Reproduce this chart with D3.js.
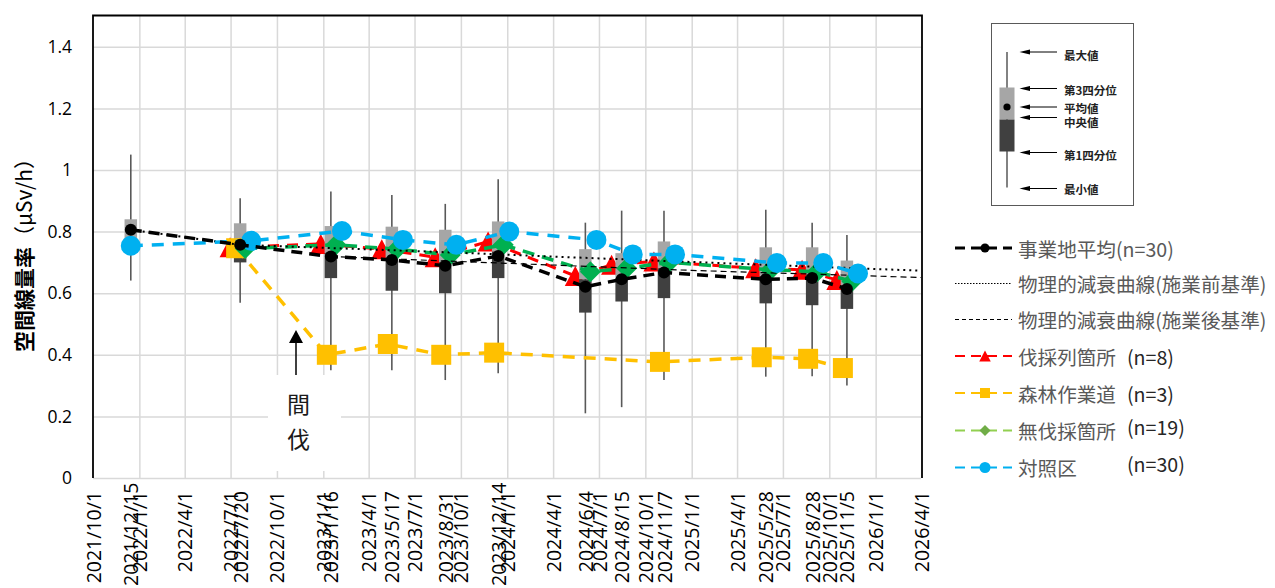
<!DOCTYPE html>
<html><head><meta charset="utf-8">
<script src="https://cdn.jsdelivr.net/npm/d3@7"></script>
<style>
html,body{margin:0;padding:0;background:#fff;}
svg{display:block;}
</style></head>
<body>
<svg id="chart" width="1275" height="588"></svg>
<script>
// ---------------- DATA ----------------
const surveyDates = ["2021/12/15","2022/7/20","2023/1/16","2023/5/17","2023/8/31","2023/12/14","2024/6/4","2024/8/15","2024/11/7","2025/5/28","2025/8/28","2025/11/5"];
const quarterTicks = ["2021/10/1","2022/1/1","2022/4/1","2022/7/1","2022/10/1","2023/1/1","2023/4/1","2023/7/1","2023/10/1","2024/1/1","2024/4/1","2024/7/1","2024/10/1","2025/1/1","2025/4/1","2025/7/1","2025/10/1","2026/1/1","2026/4/1"];
const yTicks = [0,0.2,0.4,0.6,0.8,1,1.2,1.4];

// box plot (事業地 n=30)
const boxMax    = [1.05, 0.908,0.930,0.919,0.890,0.970,0.829,0.868,0.868,0.871,0.829,0.789];
const boxQ3     = [0.840,0.827,0.818,0.816,0.806,0.833,0.743,0.730,0.768,0.749,0.749,0.706];
const boxMedian = [0.770,0.745,0.730,0.715,0.700,0.735,0.645,0.650,0.680,0.655,0.660,0.625];
const boxQ1     = [0.735,0.700,0.649,0.608,0.600,0.649,0.537,0.573,0.584,0.567,0.561,0.549];
const boxMin    = [0.641,0.569,0.350,0.350,0.318,0.340,0.210,0.230,0.318,0.329,0.330,0.300];
const siteMean  = [0.806,0.757,0.719,0.708,0.689,0.721,0.621,0.645,0.667,0.645,0.649,0.614];

// 伐採列箇所 (n=8)
const redDates  = ["2022/6/30","2022/12/27","2023/4/27","2023/8/11","2023/11/24","2024/5/15","2024/7/26","2024/10/18","2025/5/8","2025/8/8","2025/10/16"];
const redValues = [0.749,0.760,0.743,0.717,0.768,0.656,0.692,0.703,0.681,0.676,0.643];

// 森林作業道 (n=3)
const yellowDates  = ["2022/7/12","2023/1/8","2023/5/9","2023/8/23","2023/12/6","2024/10/30","2025/5/20","2025/8/20","2025/10/28"];
const yellowValues = [0.746,0.400,0.435,0.400,0.407,0.377,0.392,0.387,0.357];

// 無伐採箇所 (n=19)
const greenDates  = ["2022/7/30","2023/1/26","2023/5/27","2023/9/10","2023/12/24","2024/6/14","2024/8/25","2024/11/17","2025/6/7","2025/9/7","2025/11/15"];
const greenValues = [0.745,0.757,0.743,0.724,0.757,0.670,0.681,0.700,0.676,0.670,0.638];

// 対照区 (n=30)
const blueDates  = ["2021/12/15","2022/8/11","2023/2/7","2023/6/8","2023/9/22","2024/1/5","2024/6/26","2024/9/6","2024/11/29","2025/6/19","2025/9/19","2025/11/27"];
const blueValues = [0.754,0.770,0.802,0.773,0.757,0.800,0.773,0.726,0.726,0.698,0.698,0.664];

// 物理的減衰曲線
const preDates   = ["2021/12/15","2022/7/20","2023/7/1","2024/7/1","2025/7/1","2026/4/1"];
const preValues  = [0.806,0.757,0.737,0.713,0.690,0.673];
const postDates  = ["2023/1/16","2024/1/1","2025/1/1","2026/4/1"];
const postValues = [0.719,0.697,0.674,0.651];

// legend texts
const boxLegendLabels = ["最大値","第3四分位","平均値","中央値","第1四分位","最小値"];
const seriesNames = ["事業地平均(n=30)","物理的減衰曲線(施業前基準)","物理的減衰曲線(施業後基準)","伐採列箇所","森林作業道","無伐採箇所","対照区"];
const seriesN = ["","","","(n=8)","(n=3)","(n=19)","(n=30)"];
const yAxisTitleMain = "空間線量率";
const yAxisTitleUnit = "（μSv/h）";
const annotationChars = ["間","伐"];

// ---------------- DRAW ----------------
const parse = d3.timeParse("%Y/%m/%d");
const fmt = d => `${d.getFullYear()}/${d.getMonth()+1}/${d.getDate()}`;
const svg = d3.select("#chart");
const L = 93, R = 921, T = 15.5, B = 478;
const x = d3.scaleTime().domain([parse("2021/10/1"), parse("2026/4/1")]).range([L, R]);
const y = d3.scaleLinear().domain([0, 1.5]).range([B, B - 1.5 * 308]);

const FONT = "'Open Sans', 'Noto Sans', sans-serif";
const CJK = "'Noto Sans CJK JP', 'Noto Sans', sans-serif";
const GRID = "#d9d9d9";

// grid
const grid = svg.append("g");
grid.append("g").attr("transform", `translate(${L},0)`)
  .call(d3.axisLeft(y).tickValues(yTicks).tickSize(-(R - L)).tickFormat(""))
  .call(g => g.select(".domain").remove())
  .call(g => g.selectAll("line").attr("stroke", GRID).attr("stroke-width", 1.5));
grid.append("g").attr("transform", `translate(0,${T})`)
  .call(d3.axisBottom(x).tickValues(quarterTicks.map(parse).slice(1, -1)).tickSize(B - T).tickFormat(""))
  .call(g => g.select(".domain").remove())
  .call(g => g.selectAll("line").attr("stroke", GRID).attr("stroke-width", 1.5));

// annotation white background
svg.append("rect").attr("x", 268).attr("y", 375).attr("width", 73).attr("height", 96).attr("fill", "#fff");

// borders
svg.append("path").attr("d", `M${L},${B}V${T}H${R + 1}V${B}`).attr("fill", "none").attr("stroke", "#000").attr("stroke-width", 1.8);

// axes
const yAxis = svg.append("g").attr("transform", `translate(${L},0)`)
  .call(d3.axisLeft(y).tickValues(yTicks).tickSize(0).tickPadding(21).tickFormat(d3.format("~g")));
yAxis.select(".domain").remove();
yAxis.selectAll("text").attr("font-family", FONT).attr("font-size", 17.5).attr("fill", "#000");

const allTicks = quarterTicks.concat(surveyDates).map(parse);
const xAxis = svg.append("g").attr("transform", `translate(0,${B})`)
  .call(d3.axisBottom(x).tickValues(allTicks).tickSize(0).tickFormat(fmt));
xAxis.select(".domain").remove();
xAxis.selectAll("text")
  .attr("font-family", FONT).attr("font-size", 19.5).attr("fill", "#000")
  .attr("transform", "rotate(-90)").attr("text-anchor", "end")
  .attr("y", 0).attr("dy", "0.36em")
  .attr("x", function () {
    const len = this.getComputedTextLength();
    // labels sit just below the axis, but long ones are pushed up to stay inside the picture
    const off = Math.min(13, 586 - B - len);
    return -off;
  });

const title = svg.append("text").attr("transform", `translate(23,250) rotate(-90)`)
  .attr("text-anchor", "middle").attr("dominant-baseline", "central")
  .attr("font-family", CJK).attr("font-size", 21).attr("fill", "#000");
title.append("tspan").attr("font-weight", "bold").text(yAxisTitleMain);
title.append("tspan").text(yAxisTitleUnit);

// symbol helpers
const triPath = s => `M0,${-s}L${s * 1.05},${s}L${-s * 1.05},${s}Z`;
const diaPath = s => `M0,${-s}L${s},0L0,${s}L${-s},0Z`;
const sqPath = s => `M${-s},${-s}H${s}V${s}H${-s}Z`;

function drawLine(dates, values, color, width, dash) {
  const pts = dates.map((d, i) => [x(parse(d)), y(values[i])]);
  svg.append("path").attr("d", d3.line()(pts)).attr("fill", "none")
    .attr("stroke", color).attr("stroke-width", width).attr("stroke-dasharray", dash);
  return pts;
}
function drawMarkers(pts, pathFn, color) {
  svg.append("g").selectAll("path").data(pts).join("path")
    .attr("transform", d => `translate(${d[0]},${d[1]})`).attr("d", pathFn).attr("fill", color);
}

// red
const redPts = drawLine(redDates, redValues, "#ff0000", 3, "11,8");
drawMarkers(redPts, () => triPath(10), "#ff0000");

// box plots
const bw = 12.5;
const boxes = svg.append("g");
surveyDates.forEach((d, i) => {
  const cx = x(parse(d));
  boxes.append("line").attr("x1", cx).attr("x2", cx).attr("y1", y(boxMax[i])).attr("y2", y(boxMin[i]))
    .attr("stroke", "#595959").attr("stroke-width", 1.6);
  boxes.append("rect").attr("x", cx - bw / 2).attr("width", bw)
    .attr("y", y(boxQ3[i])).attr("height", y(boxMedian[i]) - y(boxQ3[i])).attr("fill", "#a6a6a6");
  boxes.append("rect").attr("x", cx - bw / 2).attr("width", bw)
    .attr("y", y(boxMedian[i])).attr("height", y(boxQ1[i]) - y(boxMedian[i])).attr("fill", "#404040");
});

// yellow
const yelPts = drawLine(yellowDates, yellowValues, "#ffc000", 3.5, "12,9");
drawMarkers(yelPts, () => sqPath(10), "#ffc000");

// green
const grnPts = drawLine(greenDates, greenValues, "#00b050", 3.5, "12,8");
drawMarkers(grnPts, () => diaPath(10.5), "#00b050");

// decay curves
drawLine(preDates, preValues, "#000", 2, "2,4");
drawLine(postDates, postValues, "#000", 1.2, "6,4");

// blue
const bluPts = drawLine(blueDates, blueValues, "#00b0f0", 3.5, "12,9");
svg.append("g").selectAll("circle").data(bluPts).join("circle")
  .attr("cx", d => d[0]).attr("cy", d => d[1]).attr("r", 10).attr("fill", "#00b0f0");

// mean
const meanPts = drawLine(surveyDates, siteMean, "#000", 3.5, "11,7");
svg.append("g").selectAll("circle").data(meanPts).join("circle")
  .attr("cx", d => d[0]).attr("cy", d => d[1]).attr("r", 6).attr("fill", "#000");

// annotation 間伐
svg.append("line").attr("x1", 296).attr("x2", 296).attr("y1", 375).attr("y2", 342).attr("stroke", "#000").attr("stroke-width", 1.5);
svg.append("path").attr("d", "M289,343L303,343L296,330Z").attr("fill", "#000");
annotationChars.forEach((c, i) => {
  svg.append("text").attr("x", 298.5).attr("y", 402.5 + i * 35).attr("text-anchor", "middle")
    .attr("dominant-baseline", "central").attr("font-family", CJK).attr("font-size", 23).attr("fill", "#1a1a1a").text(c);
});

// ---------------- LEGEND: box diagram ----------------
const lg = svg.append("g");
lg.append("rect").attr("x", 991.5).attr("y", 23.5).attr("width", 142).attr("height", 182)
  .attr("fill", "#fff").attr("stroke", "#595959").attr("stroke-width", 1);
lg.append("line").attr("x1", 1007).attr("x2", 1007).attr("y1", 52).attr("y2", 187.5).attr("stroke", "#595959").attr("stroke-width", 1.5);
lg.append("rect").attr("x", 999.5).attr("y", 87.5).attr("width", 15).attr("height", 32).attr("fill", "#a6a6a6");
lg.append("rect").attr("x", 999.5).attr("y", 119.5).attr("width", 15).attr("height", 32).attr("fill", "#404040");
lg.append("circle").attr("cx", 1007).attr("cy", 107).attr("r", 3.6).attr("fill", "#000");
const arrowY = [52, 88.5, 107, 117.5, 152.5, 188.5];
const labelY = [54.5, 90, 107.5, 122, 154.5, 189];
arrowY.forEach((ay, i) => {
  lg.append("line").attr("x1", 1027).attr("x2", 1057).attr("y1", ay).attr("y2", ay).attr("stroke", "#000").attr("stroke-width", 1);
  lg.append("path").attr("d", `M1019.5,${ay}L1030,${ay - 2.5}L1030,${ay + 2.5}Z`).attr("fill", "#000");
  lg.append("text").attr("x", 1064).attr("y", labelY[i]).attr("dominant-baseline", "central")
    .attr("font-family", CJK).attr("font-size", 11.5).attr("font-weight", "bold").attr("fill", "#222").text(boxLegendLabels[i]);
});

// ---------------- LEGEND: series ----------------
const legY = [248, 283.5, 319.5, 356, 393, 430.5, 467.5];
const nY = [0, 0, 0, 356, 393, 426.5, 463.5];
const legStyles = [
  {color: "#000", width: 3, dash: "10,6", marker: "circle", mcolor: "#000", ms: 4.5},
  {color: "#000", width: 1, dash: "1.5,1.5"},
  {color: "#000", width: 1, dash: "4,3"},
  {color: "#ff0000", width: 2, dash: "10,6", marker: "tri", mcolor: "#ff0000", ms: 5.5},
  {color: "#ffc000", width: 2, dash: "10,6", marker: "sq", mcolor: "#ffc000", ms: 5},
  {color: "#92d050", width: 2, dash: "10,6", marker: "dia", mcolor: "#70ad47", ms: 5.5},
  {color: "#00b0f0", width: 2, dash: "10,6", marker: "circle", mcolor: "#00b0f0", ms: 5.5}
];
const sl = svg.append("g");
seriesNames.forEach((name, i) => {
  const st = legStyles[i], ly = legY[i];
  sl.append("line").attr("x1", 955).attr("x2", 1012).attr("y1", ly).attr("y2", ly)
    .attr("stroke", st.color).attr("stroke-width", st.width).attr("stroke-dasharray", st.dash);
  if (st.marker === "circle") sl.append("circle").attr("cx", 985).attr("cy", ly).attr("r", st.ms).attr("fill", st.mcolor);
  else if (st.marker) {
    const fn = st.marker === "tri" ? triPath : st.marker === "sq" ? sqPath : diaPath;
    sl.append("path").attr("transform", `translate(985,${ly})`).attr("d", fn(st.ms)).attr("fill", st.mcolor);
  }
  sl.append("text").attr("x", 1018).attr("y", ly).attr("dominant-baseline", "central")
    .attr("font-family", CJK).attr("font-size", 19.6).attr("fill", "#595959").text(name);
  if (seriesN[i]) sl.append("text").attr("x", 1127).attr("y", nY[i]).attr("dominant-baseline", "central")
    .attr("font-family", CJK).attr("font-size", 19.6).attr("fill", "#262626").text(seriesN[i]);
});
</script>
</body></html>
